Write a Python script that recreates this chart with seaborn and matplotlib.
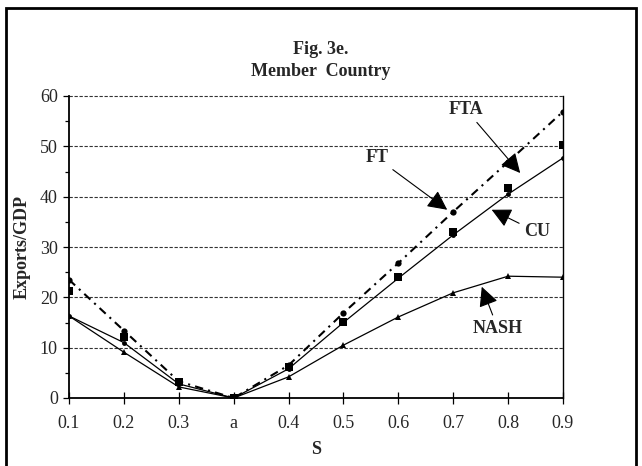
import matplotlib
matplotlib.use("Agg")
import matplotlib.pyplot as plt
from matplotlib.patches import Rectangle
from matplotlib.ticker import MultipleLocator
import seaborn as sns
import pandas as pd

# Categories along the S axis (evenly spaced, "a" sits between 0.3 and 0.4)
s_labels = ["0.1", "0.2", "0.3", "a", "0.4", "0.5", "0.6", "0.7", "0.8", "0.9"]

# Exports/GDP for each regime
fta = [23.5, 13.4, 3.3, 0.0, 6.5, 16.9, 26.8, 37.0, 46.9, 56.9]
ft = [21.3, 12.2, 3.2, 0.0, 6.1, 15.1, 24.0, 33.0, 41.8, 50.2]
cu = [16.3, 11.0, 2.8, 0.0, 5.8, 15.0, 23.8, 32.4, 40.5, 47.7]
nash = [16.3, 9.1, 2.2, 0.0, 4.2, 10.5, 16.1, 20.9, 24.2, 24.0]

pos = list(range(len(s_labels)))
df = pd.DataFrame({"pos": pos, "FTA": fta, "FT": ft, "CU": cu, "NASH": nash})

sns.set_style("white")
plt.rcParams["font.family"] = ["Liberation Serif", "DejaVu Serif"]

fig = plt.figure(figsize=(6.42, 4.66), dpi=100)
ax = fig.add_axes([69 / 642, 1 - 398 / 466, (563 - 69) / 642, (398 - 96) / 466])

# horizontal dashed grid
for yv in range(10, 61, 10):
    ax.axhline(yv, color="#333333", lw=0.8, linestyle=(0, (3, 1.5)), zorder=0.5,
               clip_on=False)

# dash-dot series with round markers
sns.lineplot(data=df, x="pos", y="FTA", ax=ax, color="black", lw=1.5,
             linestyle=(0, (4, 2.5, 1, 2.5)), marker="o", markersize=4.5,
             markeredgecolor="black", markeredgewidth=0, errorbar=None, zorder=3)
# square markers
sns.scatterplot(data=df, x="pos", y="FT", ax=ax, color="black", marker="s",
                s=26, linewidth=0, zorder=4)
# customs union: solid line with small dots
sns.lineplot(data=df, x="pos", y="CU", ax=ax, color="black", lw=0.9,
             marker="o", markersize=3.5, markeredgecolor="black",
             markeredgewidth=0, errorbar=None, zorder=3)
# Nash: solid line with triangles
sns.lineplot(data=df, x="pos", y="NASH", ax=ax, color="black", lw=0.9,
             marker="^", markersize=4.5, markeredgecolor="black",
             markeredgewidth=0, errorbar=None, zorder=3)

ax.set_xlim(0, len(s_labels) - 1)
ax.set_ylim(0, 60)
ax.set_xticks(pos)
ax.set_xticklabels(s_labels)
ax.set_yticks(range(0, 61, 10))
ax.yaxis.set_minor_locator(MultipleLocator(5))

ax.tick_params(axis="x", direction="inout", length=8, width=0.9, pad=8,
               labelsize=13, bottom=True, color="black")
ax.tick_params(axis="y", which="major", direction="out", length=4, width=0.9,
               pad=4, labelsize=13, left=True, color="black")
ax.tick_params(axis="y", which="minor", direction="out", length=3, width=0.9,
               left=True, color="black")

for side in ("left", "bottom"):
    ax.spines[side].set_color("black")
    ax.spines[side].set_linewidth(1.3)
ax.spines["right"].set_color("black")
ax.spines["right"].set_linewidth(1.0)
ax.spines["top"].set_visible(False)

ax.set_xlabel("S", fontsize=13, fontweight="bold")
ax.set_ylabel("Exports/GDP", fontsize=13, fontweight="bold")
ax.xaxis.set_label_coords(0.5, -0.142)
ax.yaxis.set_label_coords(-0.078, 0.5)

fig.text(321 / 642, 1 - 50 / 466, "Fig. 3e.", ha="center", va="center",
         fontsize=13, fontweight="bold")
fig.text(321 / 642, 1 - 72 / 466, "Member  Country", ha="center", va="center",
         fontsize=13, fontweight="bold")

arrow = dict(arrowstyle="-|>,head_length=0.6,head_width=0.3", color="black",
             lw=0.8, mutation_scale=20, shrinkA=1, shrinkB=0)
labels = [
    ("FTA", (7.23, 57.3), (8.22, 44.7)),
    ("FT", (5.61, 47.7), (6.89, 37.4)),
    ("CU", (8.52, 33.0), (7.70, 37.4)),
    ("NASH", (7.81, 13.9), (7.52, 22.1)),
]
for name, txt_xy, tip_xy in labels:
    ax.annotate(name, xy=tip_xy, xytext=txt_xy, textcoords="data",
                ha="center", va="center", fontsize=13, fontweight="bold",
                arrowprops=arrow, zorder=5)

# outer chart frame
fig.patches.append(Rectangle((6 / 642, -0.05), (636 - 6) / 642, 1 - 8 / 466 + 0.05,
                             transform=fig.transFigure, fill=False,
                             edgecolor="black", linewidth=2))

fig.savefig("out.png", dpi=100, facecolor="white")
